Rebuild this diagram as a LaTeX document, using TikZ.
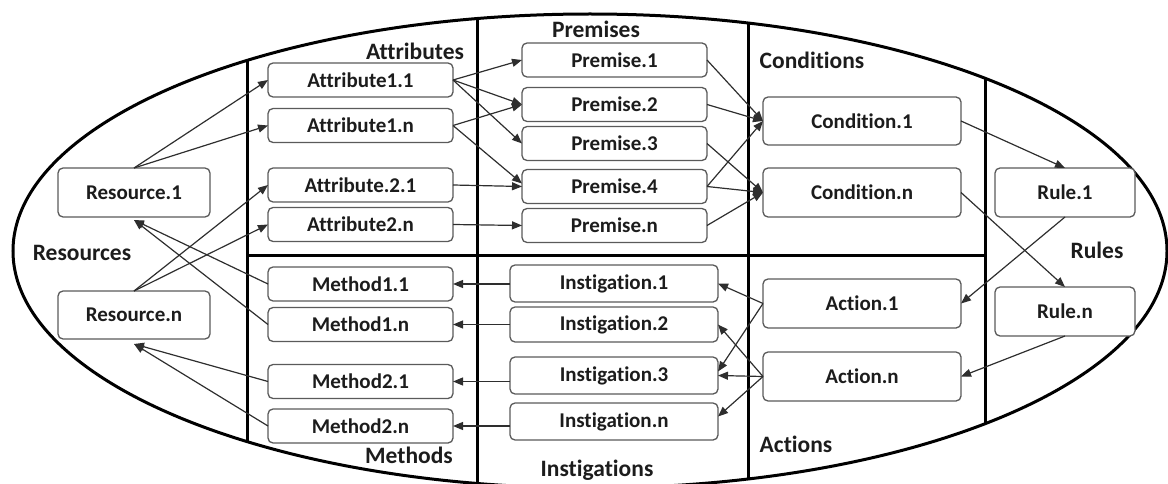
\documentclass[tikz,border=0pt]{standalone}
\usepackage{fontspec}
\setmainfont{Carlito}[Ligatures=NoCommon]
\usetikzlibrary{arrows.meta}
\definecolor{boxline}{HTML}{5A5A5A}
\definecolor{ink}{HTML}{1C1C1C}
\definecolor{wire}{HTML}{2E2E2E}
\tikzset{
  item/.style={draw=boxline, line width=1.3pt, rounded corners=5pt, fill=white,
    text=ink, inner sep=0pt, outer sep=0pt, align=center,
    font=\fontsize{21}{25}\selectfont\bfseries},
  part/.style={text=ink, inner sep=0pt, font=\fontsize{23.5}{28}\selectfont\bfseries},
  conn/.style={draw=wire, line width=1.2pt, -{Triangle[length=10pt,width=8pt]}},
  frame/.style={line width=3pt, black}
}
\begin{document}
\begin{tikzpicture}[x=1pt,y=-1pt]
\useasboundingbox (0,0) rectangle (1168,484);

% outer ellipse and column dividers
\draw[frame] (590,251) ellipse [x radius=577pt, y radius=237pt];
\begin{scope}
  \clip (590,251) ellipse [x radius=577pt, y radius=237pt];
  \draw[frame] (247,0) -- (247,484);
  \draw[frame] (477,0) -- (477,484);
  \draw[frame] (748,0) -- (748,484);
  \draw[frame] (985,0) -- (985,484);
\end{scope}
\draw[frame] (247,255) -- (985,255);

% resources
\node[item, minimum width=152pt, minimum height=49pt] (res1) at (134,192.5) {Resource.1};
\node[item, minimum width=152pt, minimum height=48pt] (resn) at (134,315) {Resource.n};

% attributes
\node[item, minimum width=185pt, minimum height=34pt] (att11) at (360.5,80) {Attribute1.1};
\node[item, minimum width=185pt, minimum height=34pt] (att1n) at (360.5,125.5) {Attribute1.n};
\node[item, minimum width=185pt, minimum height=34pt] (att21) at (360.5,185) {Attribute.2.1};
\node[item, minimum width=185pt, minimum height=34pt] (att2n) at (360.5,224.5) {Attribute2.n};

% methods
\node[item, minimum width=185pt, minimum height=34pt] (meth11) at (360.5,284) {Method1.1};
\node[item, minimum width=185pt, minimum height=34pt] (meth1n) at (360.5,324.5) {Method1.n};
\node[item, minimum width=185pt, minimum height=34pt] (meth21) at (360.5,381.5) {Method2.1};
\node[item, minimum width=185pt, minimum height=34pt] (meth2n) at (360.5,426) {Method2.n};

% premises
\node[item, minimum width=185pt, minimum height=34pt] (prem1) at (614.5,60) {Premise.1};
\node[item, minimum width=185pt, minimum height=34pt] (prem2) at (614.5,104.5) {Premise.2};
\node[item, minimum width=185pt, minimum height=34pt] (prem3) at (614.5,143.5) {Premise.3};
\node[item, minimum width=185pt, minimum height=34pt] (prem4) at (614.5,186.5) {Premise.4};
\node[item, minimum width=185pt, minimum height=34pt] (premn) at (614.5,225.5) {Premise.n};

% instigations
\node[item, minimum width=208pt, minimum height=37pt] (inst1) at (614,283.5) {Instigation.1};
\node[item, minimum width=208pt, minimum height=35pt] (inst2) at (614,324.5) {Instigation.2};
\node[item, minimum width=208pt, minimum height=37pt] (inst3) at (614,375.5) {Instigation.3};
\node[item, minimum width=208pt, minimum height=37pt] (instn) at (614,421.5) {Instigation.n};

% conditions and actions
\node[item, minimum width=198pt, minimum height=48pt] (cond1) at (862,121) {Condition.1};
\node[item, minimum width=198pt, minimum height=49pt] (condn) at (862,192.5) {Condition.n};
\node[item, minimum width=198pt, minimum height=49pt] (act1) at (862,303.5) {Action.1};
\node[item, minimum width=198pt, minimum height=49pt] (actn) at (862,376.5) {Action.n};

% rules
\node[item, minimum width=140pt, minimum height=49pt] (rule1) at (1065,192.5) {Rule.1};
\node[item, minimum width=140pt, minimum height=49pt] (rulen) at (1065,311.5) {Rule.n};

% region titles
\node[part] (tAttr) at (415,51) {Attributes};
\node[part] (tPrem) at (596,29) {Premises};
\node[part] (tCond) at (812,60) {Conditions};
\node[part] (tRes) at (82,253) {Resources};
\node[part] (tMeth) at (409,455) {Methods};
\node[part] (tInst) at (597,470) {Instigations};
\node[part] (tAct) at (796,444) {Actions};
\node[part] (tRule) at (1097,250) {Rules};

% resources -> attributes
\draw[conn] (res1.north) -- (att11.west);
\draw[conn] (res1.north) -- (att1n.west);
\draw[conn] (resn.north) -- (att21.west);
\draw[conn] (resn.north) -- (att2n.west);

% methods -> resources
\draw[conn] (meth11.west) -- ([yshift=-3pt]res1.south);
\draw[conn] (meth1n.west) -- ([yshift=-3pt]res1.south);
\draw[conn] (meth21.west) -- ([yshift=-5pt]resn.south);
\draw[conn] (meth2n.west) -- ([yshift=-5pt]resn.south);

% attributes -> premises
\draw[conn] (att11.east) -- (prem1.west);
\draw[conn] (att11.east) -- (prem2.west);
\draw[conn] (att11.east) -- (prem3.west);
\draw[conn] (att1n.east) -- (prem2.west);
\draw[conn] (att1n.east) -- ([yshift=3pt]prem4.west);
\draw[conn] (att21.east) -- (prem4.west);
\draw[conn] (att2n.east) -- (premn.west);

% premises -> conditions
\draw[conn] (prem1.east) -- (cond1.west);
\draw[conn] (prem2.east) -- (cond1.west);
\draw[conn] (prem4.east) -- (cond1.west);
\draw[conn] (prem3.east) -- (condn.west);
\draw[conn] (prem4.east) -- (condn.west);
\draw[conn] (premn.east) -- (condn.west);

% conditions -> rules -> actions
\draw[conn] (cond1.east) -- (rule1.north);
\draw[conn] (condn.east) -- (rulen.north);
\draw[conn] (rule1.south) -- (act1.east);
\draw[conn] (rulen.south) -- (actn.east);

% actions -> instigations
\draw[conn] (act1.west) -- (inst1.east);
\draw[conn] (act1.west) -- ([yshift=4pt]inst3.east);
\draw[conn] (actn.west) -- (inst2.east);
\draw[conn] (actn.west) -- (inst3.east);
\draw[conn] (actn.west) -- ([yshift=5pt]instn.east);

% instigations -> methods
\draw[conn] (inst1.west |- meth11.east) -- (meth11.east);
\draw[conn] (inst2.west |- meth1n.east) -- (meth1n.east);
\draw[conn] (inst3.west |- meth21.east) -- (meth21.east);
\draw[conn] (instn.west |- meth2n.east) -- (meth2n.east);
\end{tikzpicture}
\end{document}
